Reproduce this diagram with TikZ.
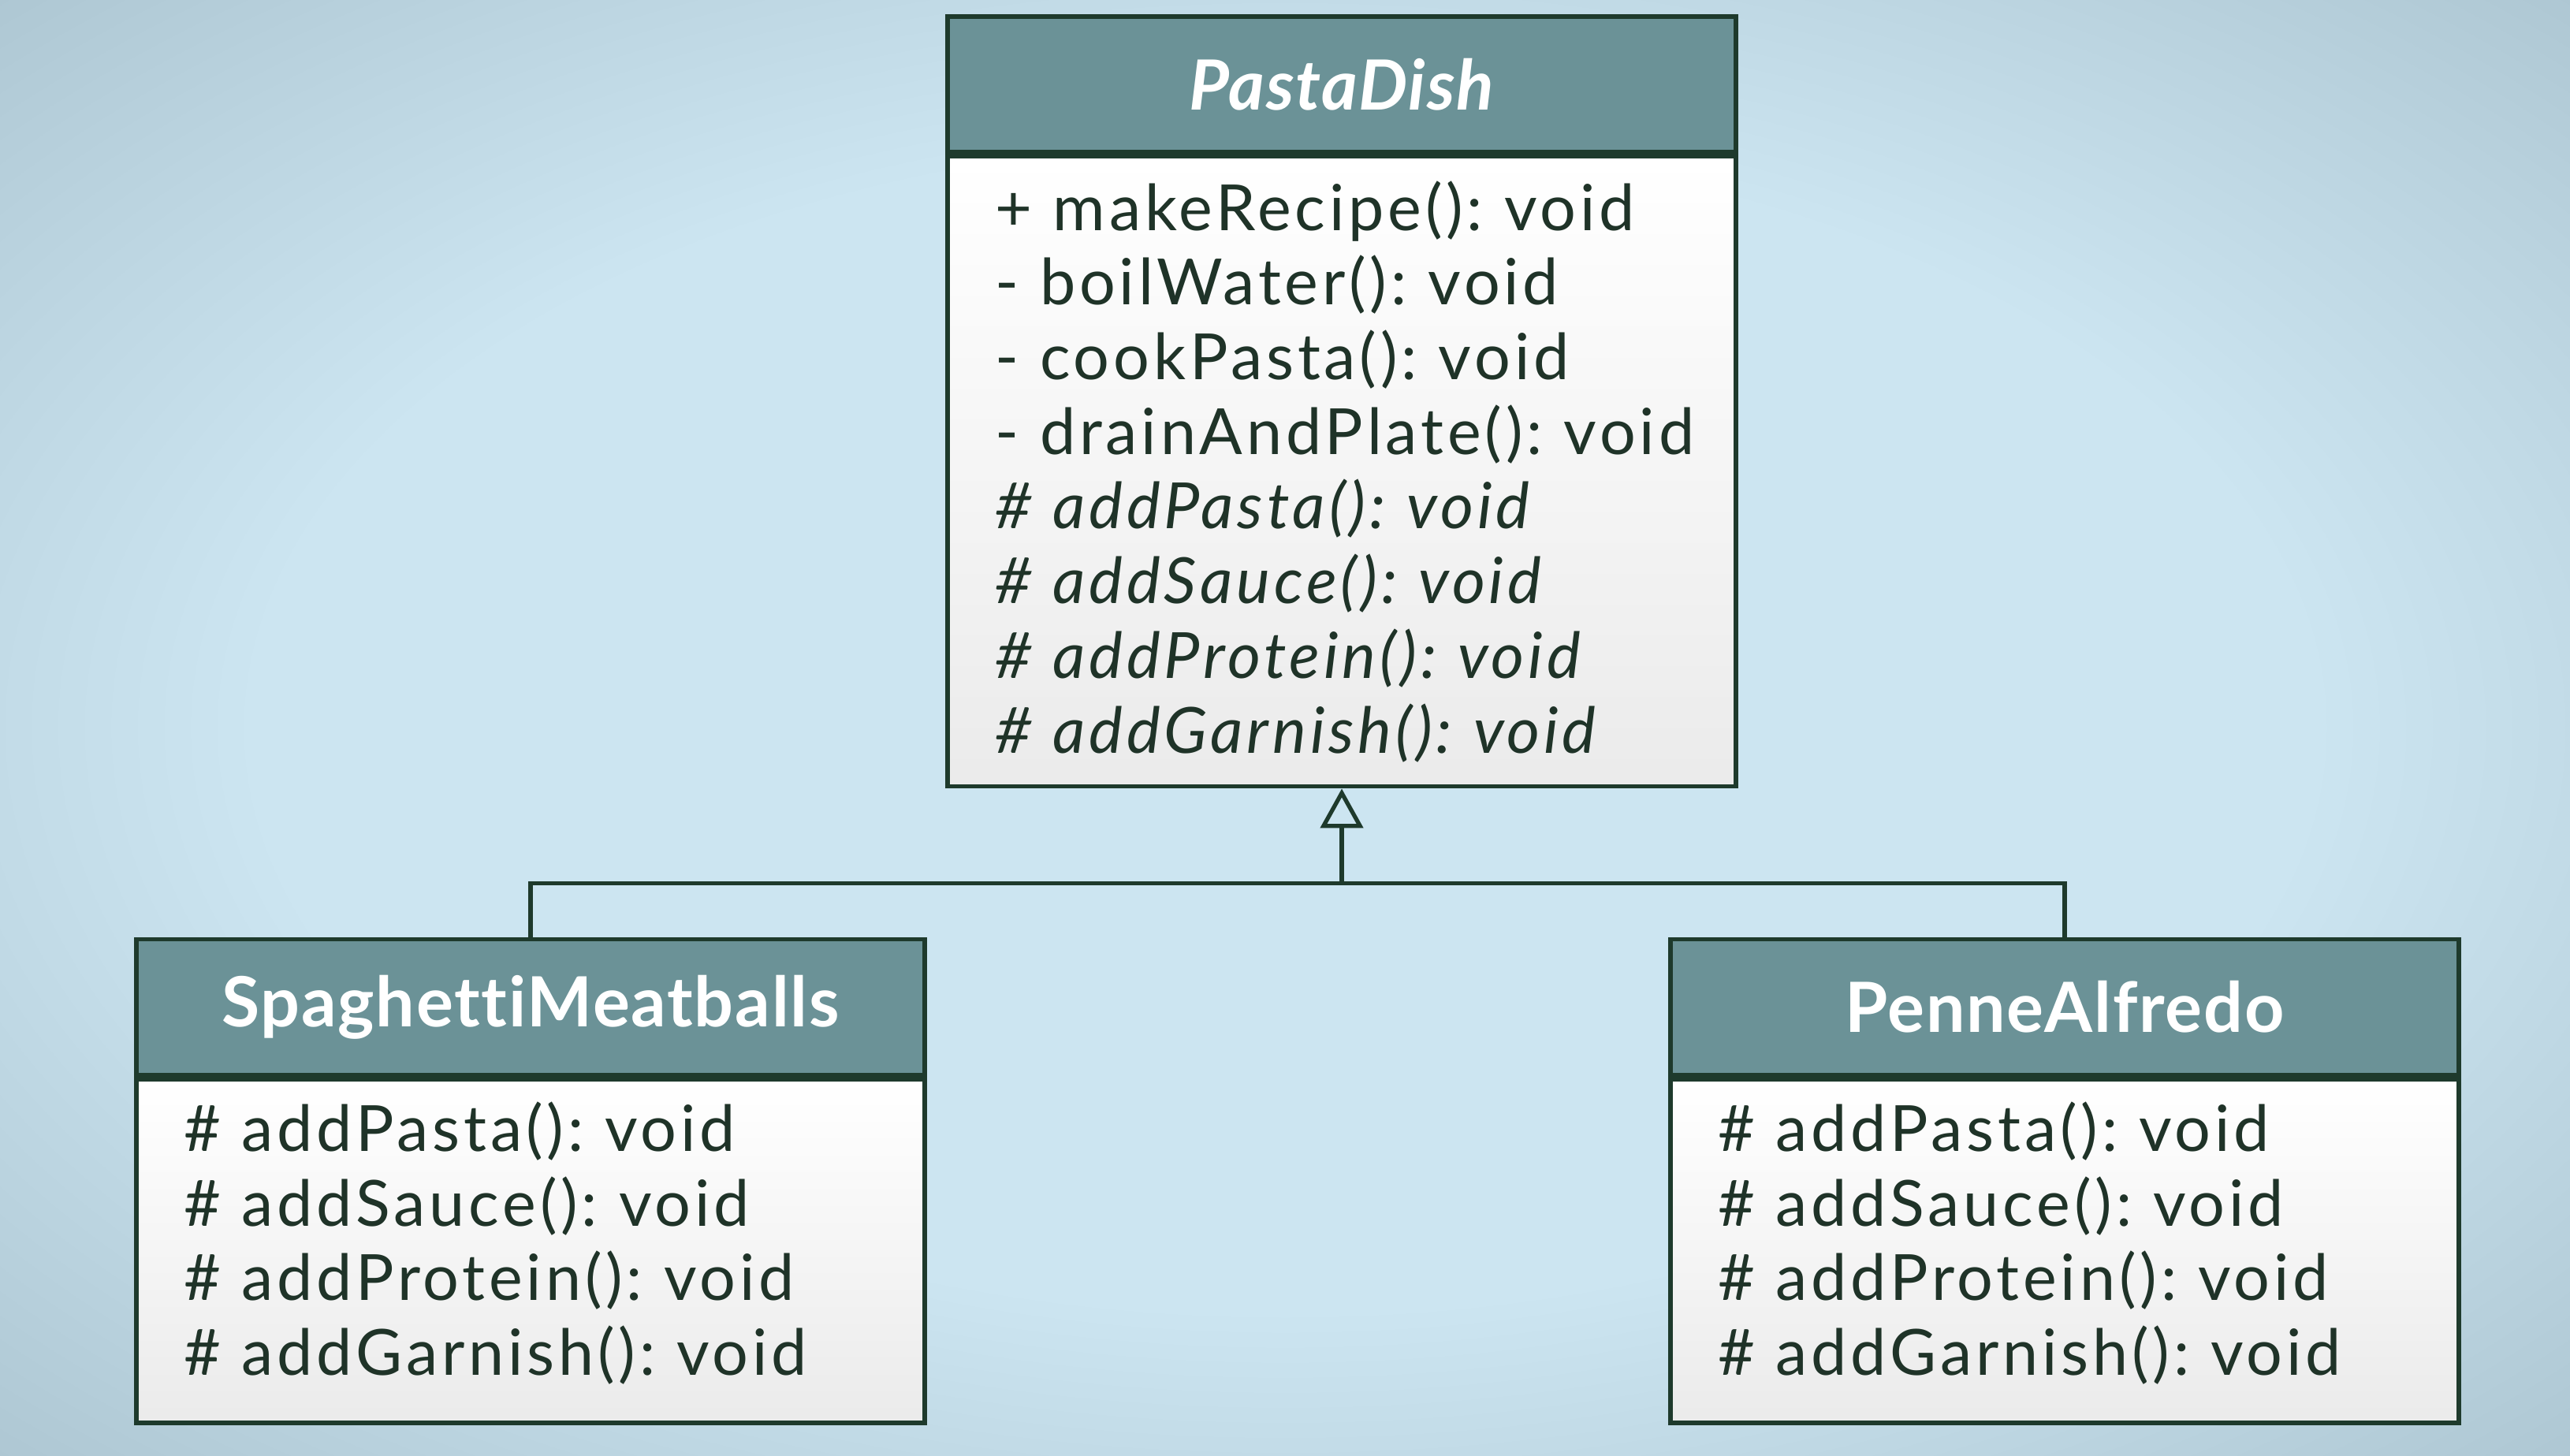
\documentclass[tikz,border=0pt]{standalone}
\usepackage{fontspec}
\setmainfont{Lato}[Ligatures=NoCommon]
\newfontfamily\umlfont{Lato}[LetterSpace=6, Ligatures=NoCommon]
\newfontfamily\umltitle{Lato}[LetterSpace=2, Ligatures=NoCommon]
\usetikzlibrary{positioning,arrows.meta,calc}
\definecolor{umlhead}{HTML}{6B9297}
\definecolor{umlline}{HTML}{1E3A2C}
\definecolor{umltext}{HTML}{1F3328}
\definecolor{bginner}{HTML}{CCE5F1}
\definecolor{bgouter}{HTML}{ADC6D2}
\pgfdeclareradialshading{bgglow}{\pgfpoint{0bp}{0bp}}{color(0bp)=(bginner); color(20bp)=(bginner); color(36bp)=(bgouter); color(50bp)=(bgouter)}
\tikzset{
  classhead/.style={draw=umlline, line width=1.6pt, fill=umlhead, text=white,
    minimum width=10cm, minimum height=1.72cm, inner sep=0pt,
    font=\umltitle\fontsize{25}{28}\selectfont\bfseries},
  classbody/.style={draw=umlline, line width=1.6pt, top color=white, bottom color=black!8,
    text=umltext, minimum width=10cm, text width=8.8cm, align=left, inner sep=0pt,
    font=\umlfont\fontsize{23}{26.95}\selectfont\frenchspacing},
  inherit/.style={draw=umlline, line width=1.5pt},
}
\begin{document}
\begin{tikzpicture}
  \shade[shading=bgglow] (0,0) rectangle (32.6,-18.46);
  \useasboundingbox (0,0) rectangle (32.6,-18.46);

  \node[classhead] (dish) at (17.02,-1.07) {\itshape PastaDish};
  \node[classbody, minimum height=7.99cm, below=0pt of dish] (dishbody) {%
    + makeRecipe(): void\\
    - boilWater(): void\\
    - cookPasta(): void\\
    - drainAndPlate(): void\\
    \textit{\# addPasta(): void}\\
    \textit{\# addSauce(): void}\\
    \textit{\# addProtein(): void}\\
    \textit{\# addGarnish(): void}};

  \node[classhead] (spag) at (6.73,-12.775) {SpaghettiMeatballs};
  \node[classbody, minimum height=4.36cm, below=0pt of spag] (spagbody) {%
    \# addPasta(): void\\
    \# addSauce(): void\\
    \# addProtein(): void\\
    \# addGarnish(): void\par\vspace{0.2cm}};

  \node[classhead] (penne) at (26.19,-12.775) {PenneAlfredo};
  \node[classbody, minimum height=4.36cm, below=0pt of penne] (pennebody) {%
    \# addPasta(): void\\
    \# addSauce(): void\\
    \# addProtein(): void\\
    \# addGarnish(): void\par\vspace{0.2cm}};

  \coordinate (split) at ($(dishbody.south)+(0,-1.2)$);
  \draw[inherit] (spag.north) |- (split) -| (penne.north);
  \draw[inherit, -{Triangle[open, length=0.5cm, width=0.54cm]}] (split) -- (dishbody.south);
\end{tikzpicture}
\end{document}
